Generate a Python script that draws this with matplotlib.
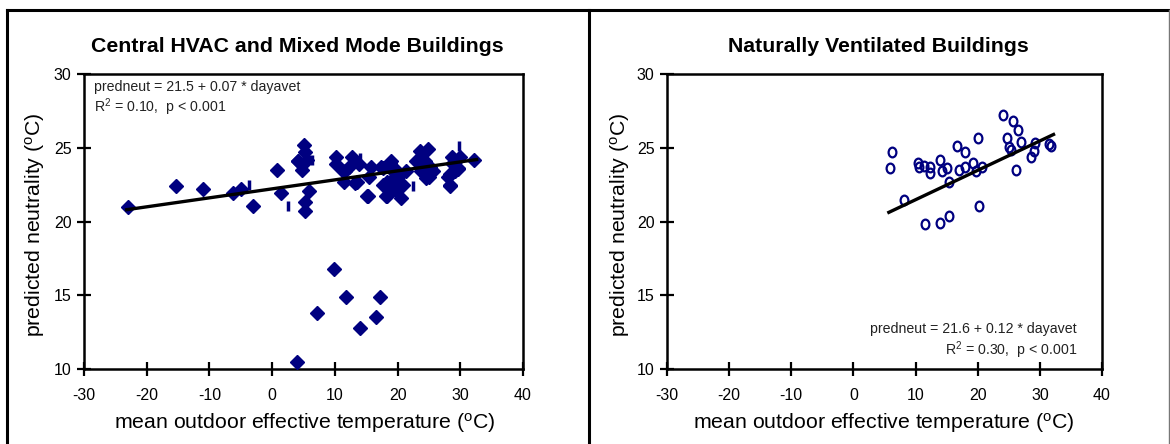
import matplotlib
matplotlib.use("Agg")
import matplotlib.pyplot as plt
from matplotlib.lines import Line2D
from matplotlib.path import Path
from matplotlib.transforms import Affine2D
import numpy as np

plt.rcParams['font.family'] = ['Liberation Sans', 'DejaVu Sans']
plt.rcParams['mathtext.fontset'] = 'custom'
plt.rcParams['mathtext.rm'] = 'Liberation Sans'
plt.rcParams['mathtext.it'] = 'Liberation Sans:italic'
plt.rcParams['axes.unicode_minus'] = False

# ---------------- data ----------------
# Central HVAC / mixed mode: diamonds
hvac_x = [-23.0, -15.3, -11.0, -6.2, -5.0, -3.1, 0.75, 1.4, 4.15, 4.7, 5.05, 5.3, 5.6,
          5.3, 5.2, 5.85, 4.2, 3.9, 7.1, 9.85, 11.75, 14.0, 16.5, 17.2,
          10.15, 10.15, 11.3, 11.5, 12.75, 12.3, 13.2, 13.8, 15.1, 15.8, 15.5, 17.4,
          17.7, 18.2, 18.9, 19.3, 19.55, 20.1, 20.6, 20.9, 21.4, 11.6, 13.5, 15.3,
          17.7, 18.8, 19.6, 19.3, 18.3, 18.8, 20.1, 18.3,
          23.0, 23.5, 24.9, 24.3, 25.0, 25.1, 23.8, 23.3, 24.1, 25.7, 24.6,
          28.05, 28.4, 28.6, 28.85, 29.6, 29.9, 29.1, 28.9, 29.7, 28.4, 28.4, 32.2]
hvac_y = [21.0, 22.4, 22.2, 21.9, 22.2, 21.05, 23.5, 21.9, 24.1, 23.5, 25.2, 24.7, 24.2,
          21.3, 20.7, 22.1, 24.1, 10.5, 13.8, 16.8, 14.9, 12.8, 13.55, 14.9,
          24.4, 23.9, 23.45, 22.7, 24.4, 23.7, 22.6, 23.9, 21.7, 23.7, 23.0, 23.7,
          22.5, 21.7, 24.1, 23.45, 22.2, 23.0, 21.6, 22.5, 23.45, 23.4, 22.65, 21.75,
          23.66, 24.0, 23.55, 22.9, 22.65, 22.2, 22.5, 21.75,
          24.1, 24.8, 24.9, 24.1, 23.0, 23.7, 23.45, 24.1, 23.66, 23.4, 22.98,
          23.0, 22.4, 24.35, 23.9, 23.55, 24.35, 23.45, 24.0, 23.66, 23.2, 22.5, 24.2]
# second marker style in the HVAC panel (short vertical dashes)
hvac_dash_x = [-3.65, 2.55, 6.3, 14.05, 18.1, 22.5, 29.75]
hvac_dash_y = [22.5, 21.07, 24.2, 24.3, 22.3, 22.38, 25.1]
hvac_fit_x = [-23.2, 32.6]
hvac_fit_y = [20.8, 24.2]

# Naturally ventilated: open ellipses
nv_x = [5.82, 6.26, 8.1, 10.36, 10.5, 11.3, 11.56, 12.4, 12.4, 14.0, 14.3, 14.0,
        15.1, 15.3, 15.3, 16.65, 17.0, 18.0, 18.0, 19.3, 19.66, 20.04, 20.15, 20.75,
        24.1, 24.7, 24.96, 25.35, 25.6, 26.2, 26.5, 26.9, 28.6, 29.0, 29.2, 31.4, 31.8]
nv_y = [23.6, 24.73, 21.48, 23.94, 23.67, 23.78, 19.83, 23.67, 23.26, 24.17, 23.4, 19.9,
        23.63, 22.65, 20.37, 25.14, 23.5, 24.73, 23.67, 23.94, 23.4, 25.64, 21.03, 23.67,
        27.24, 25.64, 25.07, 24.85, 26.79, 23.5, 26.23, 25.37, 24.35, 24.8, 25.3, 25.25, 25.1]
nv_fit_x = [5.7, 32.2]
nv_fit_y = [20.62, 25.9]

x_ticks = [-30, -20, -10, 0, 10, 20, 30, 40]
y_ticks = [10, 15, 20, 25, 30]

titles = ["Central HVAC and Mixed Mode Buildings", "Naturally Ventilated Buildings"]
xlabel = r"mean outdoor effective temperature ($^{\mathrm{o}}$C)"
ylabel = r"predicted neutrality ($^{\mathrm{o}}$C)"
eq_left = ["predneut = 21.5 + 0.07 * dayavet", r"R$^{2}$ = 0.10,  p < 0.001"]
eq_right = ["predneut = 21.6 + 0.12 * dayavet", r"R$^{2}$ = 0.30,  p < 0.001"]

navy = '#000080'
W, H = 1170, 444
fig = plt.figure(figsize=(W / 100, H / 100), dpi=100)

def fx(px):
    return px / W

def fy(py):
    return 1 - py / H

def make_ax(left_px, right_px):
    ax = fig.add_axes([fx(left_px), fy(369), fx(right_px - left_px), (369 - 74) / H])
    ax.set_xlim(-30, 40)
    ax.set_ylim(10, 30)
    ax.set_xticks(x_ticks)
    ax.set_yticks(y_ticks)
    ax.tick_params(direction='inout', length=10, width=1.6, labelsize=11.5, pad=9, colors='black')
    ax.tick_params(axis='y', pad=4)
    for s in ax.spines.values():
        s.set_linewidth(1.8)
        s.set_color('black')
    return ax

ax1 = make_ax(84, 523)
ax2 = make_ax(667, 1102)

# left panel
ax1.plot(hvac_x, hvac_y, linestyle='none', marker='D', markersize=7.5,
         color=navy, markeredgecolor=navy, zorder=3)
ax1.plot(hvac_dash_x, hvac_dash_y, linestyle='none', marker='|', markersize=7,
         markeredgewidth=2.5, color=navy, zorder=3)
ax1.plot(hvac_fit_x, hvac_fit_y, color='black', linewidth=2.4, zorder=4)
fig.text(fx(94), fy(87), eq_left[0], fontsize=10.2, color='#222222', va='center', ha='left')
fig.text(fx(94), fy(107), eq_left[1], fontsize=10.2, color='#222222', va='center', ha='left')

# right panel
ell = Path.unit_circle().transformed(Affine2D().scale(0.8, 1.0))
ax2.plot(nv_x, nv_y, linestyle='none', marker=ell, markersize=7,
         markerfacecolor='none', markeredgecolor=navy, markeredgewidth=1.6, zorder=3)
ax2.plot(nv_fit_x, nv_fit_y, color='black', linewidth=2.4, zorder=4)
fig.text(fx(1077), fy(329), eq_right[0], fontsize=10.2, color='#222222', va='center', ha='right')
fig.text(fx(1077), fy(350), eq_right[1], fontsize=10.2, color='#222222', va='center', ha='right')

# titles & axis labels
fig.text(fx(297), fy(47), titles[0], fontsize=15.3, fontweight='bold', ha='center', va='center')
fig.text(fx(878), fy(47), titles[1], fontsize=15.3, fontweight='bold', ha='center', va='center')
for cx in (305, 884):
    fig.text(fx(cx), fy(423), xlabel, fontsize=15.3, ha='center', va='center')
for cx, cy in ((35, 225), (620, 225)):
    fig.text(fx(cx), fy(cy), ylabel, fontsize=15.3, ha='center', va='center', rotation=90)

# panel borders
lw = 2.2
fig.add_artist(Line2D([fx(7), fx(1169)], [fy(10), fy(10)], color='black', linewidth=lw))
fig.add_artist(Line2D([fx(7), fx(7)], [fy(10), 0], color='black', linewidth=lw))
fig.add_artist(Line2D([fx(588.5), fx(588.5)], [fy(10), 0], color='black', linewidth=lw))
fig.add_artist(Line2D([fx(1169), fx(1169)], [fy(10), 0], color='#777777', linewidth=1.0))

fig.savefig('out.png', dpi=100)
